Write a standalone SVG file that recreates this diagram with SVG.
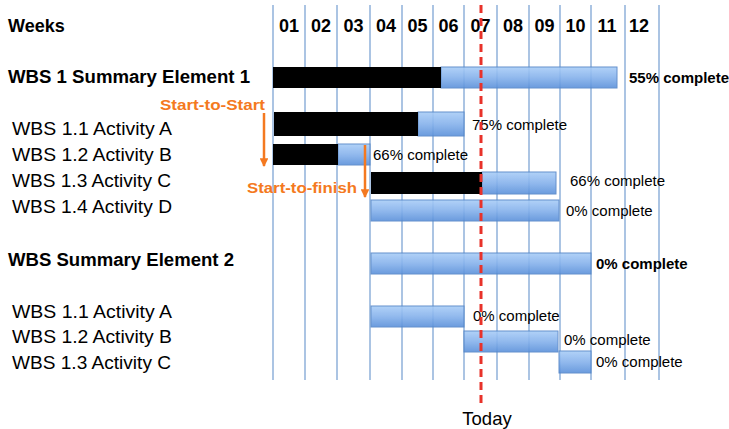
<svg xmlns="http://www.w3.org/2000/svg" width="729" height="429" viewBox="0 0 729 429">
  <defs>
    <linearGradient id="barBlue" x1="0" y1="0" x2="0" y2="1">
      <stop offset="0" stop-color="#a9cdf7"/>
      <stop offset="0.5" stop-color="#86b2ec"/>
      <stop offset="1" stop-color="#5b91da"/>
    </linearGradient>
    <marker id="arrowOrange" viewBox="0 0 10 10" refX="9" refY="5" markerWidth="4" markerHeight="3.5" orient="auto" markerUnits="strokeWidth">
      <path d="M0,0 L10,5 L0,10 Z" fill="#f47920"/>
    </marker>
  </defs>
  <style>
    .grid { stroke: #8fb1da; stroke-width: 1.5; }
    .head { font-family: "Liberation Sans", Arial, sans-serif; font-weight: bold; font-size: 18px; fill: #000; }
    .task { font-family: "Liberation Sans", Arial, sans-serif; font-size: 18.5px; fill: #000; }
    .pct { font-family: "Liberation Sans", Arial, sans-serif; font-size: 15px; fill: #000; }
    .pctb { font-family: "Liberation Sans", Arial, sans-serif; font-size: 15px; font-weight: bold; fill: #000; }
    .dep { font-family: "Liberation Sans", Arial, sans-serif; font-size: 15.5px; font-weight: bold; fill: #f47920; }
    .done { fill: #000; }
    .todo { fill: url(#barBlue); stroke: #5585c8; stroke-width: 1; opacity: 0.9; }
    .link { stroke: #f47920; stroke-width: 2.5; fill: none; }
    .today { stroke: #e8322a; stroke-width: 3; stroke-dasharray: 8 5; }
  </style>

  <rect width="729" height="429" fill="#fff"/>

  <!-- week grid -->
  <g id="grid">
    <line class="grid" x1="273" y1="5" x2="273" y2="380"/>
    <line class="grid" x1="305" y1="5" x2="305" y2="380"/>
    <line class="grid" x1="337" y1="5" x2="337" y2="380"/>
    <line class="grid" x1="370" y1="5" x2="370" y2="380"/>
    <line class="grid" x1="402" y1="5" x2="402" y2="380"/>
    <line class="grid" x1="433" y1="5" x2="433" y2="380"/>
    <line class="grid" x1="464" y1="5" x2="464" y2="380"/>
    <line class="grid" x1="497" y1="5" x2="497" y2="380"/>
    <line class="grid" x1="529" y1="5" x2="529" y2="380"/>
    <line class="grid" x1="560" y1="5" x2="560" y2="380"/>
    <line class="grid" x1="591" y1="5" x2="591" y2="380"/>
    <line class="grid" x1="625" y1="5" x2="625" y2="380"/>
    <line class="grid" x1="659" y1="5" x2="659" y2="380"/>
  </g>

  <!-- header row -->
  <g id="header">
    <text class="head" x="8" y="32">Weeks</text>
    <g text-anchor="middle">
      <text class="head" x="289" y="32">01</text>
      <text class="head" x="321" y="32">02</text>
      <text class="head" x="353.5" y="32">03</text>
      <text class="head" x="386" y="32">04</text>
      <text class="head" x="417.5" y="32">05</text>
      <text class="head" x="448.5" y="32">06</text>
      <text class="head" x="480.5" y="32">07</text>
      <text class="head" x="513" y="32">08</text>
      <text class="head" x="544.5" y="32">09</text>
      <text class="head" x="575.5" y="32">10</text>
      <text class="head" x="607" y="32">11</text>
      <text class="head" x="639" y="32">12</text>
    </g>
  </g>

  <!-- summary element 1 -->
  <g id="summary1">
    <text class="head" x="8" y="83" textLength="242" lengthAdjust="spacingAndGlyphs">WBS 1 Summary Element 1</text>
    <rect class="todo" x="441" y="67" width="176" height="21"/>
    <rect class="done" x="273" y="67" width="168" height="21"/>
    <text class="pctb" x="629" y="83">55% complete</text>
  </g>

  <g id="activity1a">
    <text class="task" x="12" y="135" textLength="160" lengthAdjust="spacingAndGlyphs">WBS 1.1 Activity A</text>
    <rect class="todo" x="418" y="112" width="46" height="24"/>
    <rect class="done" x="274" y="112" width="144" height="24"/>
    <text class="pct" x="472" y="130">75% complete</text>
  </g>

  <g id="activity1b">
    <text class="task" x="12" y="161" textLength="160" lengthAdjust="spacingAndGlyphs">WBS 1.2 Activity B</text>
    <rect class="todo" x="338" y="144" width="32" height="21"/>
    <rect class="done" x="273" y="144" width="65" height="21"/>
    <text class="pct" x="373" y="160">66% complete</text>
  </g>

  <g id="activity1c">
    <text class="task" x="12" y="187" textLength="159" lengthAdjust="spacingAndGlyphs">WBS 1.3 Activity C</text>
    <rect class="todo" x="482" y="172" width="74" height="22"/>
    <rect class="done" x="371" y="172" width="111" height="22"/>
    <text class="pct" x="570" y="186">66% complete</text>
  </g>

  <g id="activity1d">
    <text class="task" x="12" y="213" textLength="160" lengthAdjust="spacingAndGlyphs">WBS 1.4 Activity D</text>
    <rect class="todo" x="371" y="200" width="188" height="21"/>
    <text class="pct" x="566" y="216">0% complete</text>
  </g>

  <!-- summary element 2 -->
  <g id="summary2">
    <text class="head" x="8" y="266" textLength="226" lengthAdjust="spacingAndGlyphs">WBS Summary Element 2</text>
    <rect class="todo" x="371" y="253" width="220" height="21"/>
    <text class="pctb" x="596" y="269">0% complete</text>
  </g>

  <g id="activity2a">
    <text class="task" x="12" y="318" textLength="160" lengthAdjust="spacingAndGlyphs">WBS 1.1 Activity A</text>
    <rect class="todo" x="371" y="306" width="93" height="21"/>
    <text class="pct" x="473" y="321">0% complete</text>
  </g>

  <g id="activity2b">
    <text class="task" x="12" y="343" textLength="160" lengthAdjust="spacingAndGlyphs">WBS 1.2 Activity B</text>
    <rect class="todo" x="464" y="331" width="94" height="21"/>
    <text class="pct" x="564" y="345">0% complete</text>
  </g>

  <g id="activity2c">
    <text class="task" x="12" y="369" textLength="159" lengthAdjust="spacingAndGlyphs">WBS 1.3 Activity C</text>
    <rect class="todo" x="559" y="351" width="32" height="22"/>
    <text class="pct" x="596" y="367">0% complete</text>
  </g>

  <!-- today marker -->
  <g id="today">
    <line class="today" x1="481" y1="5" x2="481" y2="403"/>
    <text class="task" x="487" y="425" text-anchor="middle">Today</text>
  </g>

  <!-- dependency connectors -->
  <g id="connectors">
    <line class="link" x1="264" y1="113" x2="264" y2="166" marker-end="url(#arrowOrange)"/>
    <text class="dep" x="160" y="110" textLength="105" lengthAdjust="spacingAndGlyphs">Start-to-Start</text>
    <line class="link" x1="365" y1="145" x2="365" y2="197" marker-end="url(#arrowOrange)"/>
    <text class="dep" x="247" y="193" textLength="110" lengthAdjust="spacingAndGlyphs">Start-to-finish</text>
  </g>
</svg>
